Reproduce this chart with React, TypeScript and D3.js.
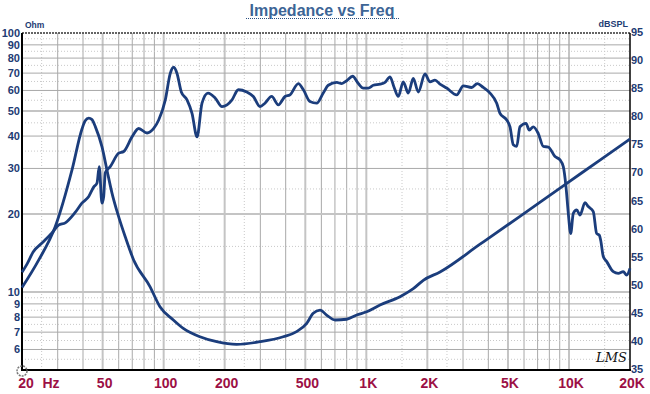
import React from "react";
import * as d3 from "d3";

// impedance curve (Hz / ohm)
const impFreq = [20, 24.2, 29.2, 35.3, 39.5, 41, 42.7, 44.3, 46, 49.6, 52.5, 55.6, 60, 64.7, 71.1, 85.6, 95.9, 111.6, 125, 151, 182.7, 229, 299, 389, 453, 508, 547, 591, 637, 701, 800, 896, 1004, 1168, 1466, 1705, 1910, 2310, 3640, 5730, 9560, 14220, 20000];
const impOhm = [10.4, 13.3, 17.9, 29.6, 42.5, 45.8, 46.9, 46.3, 43.5, 36.4, 29.6, 24.1, 19.5, 16.3, 13.3, 10.5, 8.77, 7.8, 7.24, 6.72, 6.43, 6.28, 6.43, 6.72, 7.03, 7.57, 8.28, 8.52, 8.15, 7.8, 7.85, 8.15, 8.39, 8.91, 9.59, 10.3, 11.1, 11.95, 15.3, 19.6, 26.0, 32.3, 39];

// SPL curve (Hz / dB)
const splFreq = [20, 21.2, 22.7, 25.1, 28.1, 30.3, 32.7, 36.5, 39.5, 42.7, 45.2, 46.9, 48.1, 49.6, 50.6, 51.5, 54.5, 60, 63.5, 69.8, 75.3, 82.8, 89.3, 94.5, 101.9, 107.8, 112, 116.4, 122.2, 130.4, 138, 146.1, 154.6, 165.5, 179.8, 194, 205.4, 217.4, 233.6, 257, 277, 298.8, 316, 341, 368, 397, 420, 462, 489, 527, 569, 613, 649, 714, 756, 800, 856, 913, 966, 1023, 1083, 1168, 1236, 1309, 1369, 1438, 1522, 1611, 1705, 1805, 1947, 2062, 2182, 2310, 2492, 2792, 3010, 3310, 3528, 3778, 4076, 4398, 4566, 4928, 5116, 5312, 5520, 5730, 6136, 6370, 6666, 7056, 7470, 7906, 8532, 9030, 9374, 9666, 9922, 10196, 10502, 10916, 11334, 11996, 12454, 13178, 13694, 14108, 14334, 14764, 15348, 16546, 17510, 18532, 19258, 20000];
const splDb = [52.4, 53.9, 56.0, 57.6, 59.4, 60.8, 61.2, 63.0, 64.7, 65.9, 67.6, 68.3, 71.2, 64.7, 65.9, 70.1, 71.2, 73.6, 73.9, 76.5, 78.0, 77.2, 78.0, 79.5, 83.1, 87.8, 88.9, 87.8, 84.5, 83.1, 80.7, 76.5, 82.5, 84.3, 83.4, 81.9, 82.2, 83.1, 84.9, 84.5, 83.7, 81.9, 82.5, 83.7, 82.2, 83.7, 84.0, 86.0, 84.9, 82.8, 82.5, 84.3, 85.7, 86.2, 86.0, 86.5, 87.3, 86.0, 85.2, 85.2, 85.7, 85.9, 86.2, 87.2, 85.4, 83.7, 86.3, 84.3, 86.9, 84.5, 87.7, 86.3, 86.6, 85.9, 85.2, 84.0, 85.6, 85.3, 86.0, 85.3, 84.3, 82.5, 80.7, 79.5, 78.3, 75.1, 74.8, 78.3, 78.9, 77.7, 78.3, 77.1, 74.8, 74.7, 73.0, 72.4, 71.2, 67.6, 62.9, 59.3, 62.9, 63.5, 62.6, 64.8, 64.1, 63.2, 59.3, 59.0, 58.1, 55.2, 54.3, 52.5, 52.2, 52.5, 51.9, 53.1];

const ohmTicks = [100, 90, 80, 70, 60, 50, 40, 30, 20, 10, 9, 8, 7, 6];
const dbTicks = [95, 90, 85, 80, 75, 70, 65, 60, 55, 50, 45, 40, 35];
const freqTicks = [20, 50, 100, 200, 500, 1000, 2000, 5000, 10000, 20000];
const freqLabels = ["20", "50", "100", "200", "500", "1K", "2K", "5K", "10K", "20K"];

const W = 650, H = 394;
const L = 22, R = 630, T = 33, B = 370;
const FONT = "'Liberation Sans', Arial, sans-serif";
const NAVY = "#1e3b73";
const RED = "#9c1045";
const CURVE = "#1b3d7c";

const x = d3.scaleLog().domain([20, 20000]).range([L, R]);
const yOhm = d3.scaleLog().domain([5, 100]).range([B, T]);
const yDb = d3.scaleLinear().domain([35, 95]).range([B, T]);

const mults = [1, 1.5, 2, 2.5, 3, 4, 5, 6, 7, 8, 9];
const vGrid: { f: number; kind: string }[] = [];
[10, 100, 1000, 10000].forEach((dec) =>
  mults.forEach((m) => {
    const f = dec * m;
    if (f > 20 && f < 20000) {
      const kind = m === 1.5 || m === 2.5 ? "dot" : m === 1 || m === 2 || m === 5 ? "major" : "minor";
      vGrid.push({ f, kind });
    }
  })
);
const hGrid: { v: number; kind: string }[] = [];
[1, 10].forEach((dec) =>
  [1, 1.5, 2, 2.5, 3, 3.5, 4, 4.5, 5, 5.5, 6, 6.5, 7, 7.5, 8, 8.5, 9, 9.5].forEach((m) => {
    const v = dec * m;
    if (v > 5 && v < 100) {
      const kind = m % 1 !== 0 ? "dot" : m === 1 || m === 2 || m === 5 ? "major" : "minor";
      hGrid.push({ v, kind });
    }
  })
);

const gridStyle = (kind: string) =>
  kind === "major"
    ? { stroke: "#c4c4c4", strokeWidth: 2 }
    : kind === "minor"
    ? { stroke: "#a9a9a9", strokeWidth: 1 }
    : { stroke: "#c9c9c9", strokeWidth: 1, strokeDasharray: "1,2" };

export default function App() {
  const impLine = d3
    .line<number>()
    .x((_, i) => x(impFreq[i]))
    .y((d) => yOhm(d))
    .curve(d3.curveMonotoneX);
  const splLine = d3
    .line<number>()
    .x((_, i) => x(splFreq[i]))
    .y((d) => yDb(d))
    .curve(d3.curveMonotoneX);

  return (
    <svg width={W} height={H} style={{ position: "absolute", left: 0, top: 0, background: "#fff" }} fontFamily={FONT}>
      <rect x={0} y={0} width={W} height={H} fill="#fff" />

      {/* title */}
      <text x={322} y={16} textAnchor="middle" fontSize={16} fontWeight="bold" fill="#3d6596">
        Impedance vs Freq
      </text>
      <line x1={246} x2={399} y1={18.5} y2={18.5} stroke="#2b4f80" strokeWidth={1} strokeDasharray="1,1" />

      {/* grid */}
      {vGrid.map((g, i) => (
        <line key={"v" + i} x1={x(g.f)} x2={x(g.f)} y1={T} y2={B} {...gridStyle(g.kind)} />
      ))}
      {hGrid.map((g, i) => (
        <line key={"h" + i} x1={L} x2={R} y1={yOhm(g.v)} y2={yOhm(g.v)} {...gridStyle(g.kind)} />
      ))}

      {/* frame */}
      <line x1={L} x2={R} y1={T} y2={T} stroke="#333" strokeWidth={1.5} strokeDasharray="2,1" />
      <line x1={L} x2={L} y1={T} y2={B + 1} stroke="#000" strokeWidth={2} />
      <line x1={R} x2={R} y1={T} y2={B + 1} stroke="#000" strokeWidth={1.5} />
      <line x1={L - 1} x2={R + 1} y1={B} y2={B} stroke="#000" strokeWidth={2} />

      {/* curves */}
      <path d={impLine(impOhm) || ""} fill="none" stroke={CURVE} strokeWidth={2.8} strokeLinejoin="round" />
      <path d={splLine(splDb) || ""} fill="none" stroke={CURVE} strokeWidth={2.8} strokeLinejoin="round" />

      {/* left axis */}
      <text x={25} y={28} fontSize={8.5} fontWeight="bold" fill={NAVY}>Ohm</text>
      {ohmTicks.map((v) => (
        <text key={"o" + v} x={20} y={yOhm(v) + 4} textAnchor="end" fontSize={11} fontWeight="bold" fill={NAVY}>
          {v}
        </text>
      ))}

      {/* right axis */}
      <text x={628} y={27} textAnchor="end" fontSize={9} fontWeight="bold" fill={NAVY}>dBSPL</text>
      {dbTicks.map((v) => (
        <text key={"d" + v} x={631} y={yDb(v) + 3} fontSize={11} fontWeight="bold" fill={NAVY}>
          {v}
        </text>
      ))}

      {/* bottom axis */}
      {freqTicks.map((f, i) => (
        <text
          key={"f" + f}
          x={i === 0 ? x(f) + 4 : x(f) + 2}
          y={388}
          textAnchor="middle"
          fontSize={14}
          fontWeight="bold"
          fill={RED}
        >
          {freqLabels[i]}
        </text>
      ))}
      <text x={x(20) + 29} y={388} textAnchor="middle" fontSize={14} fontWeight="bold" fill={RED}>Hz</text>

      {/* corner marks */}
      <circle cx={22} cy={371} r={5} fill="none" stroke="#777" strokeWidth={1.5} strokeDasharray="2,1" />
      <text x={596} y={362} fontSize={13} fontStyle="italic" fontFamily="'DejaVu Serif', serif" fill="#111">LMS</text>
    </svg>
  );
}
